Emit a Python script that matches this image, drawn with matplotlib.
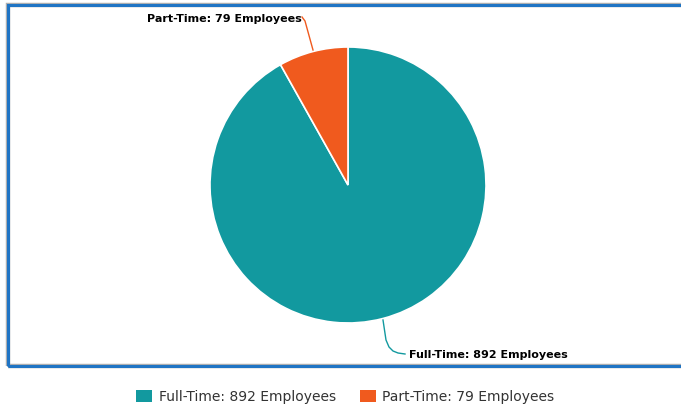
import matplotlib.pyplot as plt
from matplotlib.patches import Rectangle, Patch

labels = ['Full-Time', 'Part-Time']
counts = [892, 79]
colours = ['#12999f', '#f05a1e']

W, H = 681, 409
fig = plt.figure(figsize=(W / 100, H / 100), dpi=100)
ax = fig.add_axes([0, 0, 1, 1])

# frame around the plot area
fig.patches.append(Rectangle((8 / W, (H - 366) / H), 700 / W, 361 / H,
                             transform=fig.transFigure, fill=False,
                             edgecolor='#b0b0b0', lw=3.2, zorder=0))
fig.patches.append(Rectangle((8 / W, (H - 366) / H), 700 / W, 361 / H,
                             transform=fig.transFigure, fill=False,
                             edgecolor='#1f74c4', lw=2.2, zorder=1))

cx, cy, r = 348, H - 185, 138
wedges, _ = ax.pie(counts, colors=colours, startangle=90, counterclock=False,
                   center=(cx, cy), radius=r, frame=True,
                   wedgeprops=dict(edgecolor='white', linewidth=1.2))
ax.set_xlim(0, W)
ax.set_ylim(0, H)
ax.set_aspect('equal')
ax.axis('off')

# data labels with leader lines
txt = ['%s: %d Employees' % (l, c) for l, c in zip(labels, counts)]
ax.text(302, H - 19, txt[1], ha='right', va='center', fontsize=8,
        fontweight='bold')
ax.plot([302, 305, 313], [H - 17, H - 21, H - 50], color=colours[1], lw=1)
ax.text(409, H - 355, txt[0], ha='left', va='center', fontsize=8,
        fontweight='bold')
ax.plot([383, 386, 389, 393, 398, 405], [H - 320, H - 340, H - 347, H - 351,
                                         H - 353, H - 354],
        color=colours[0], lw=1)

handles = [Patch(facecolor=c, edgecolor='none') for c in colours]
leg = fig.legend(handles, txt, loc='center', bbox_to_anchor=(0.507, 1 - 397 / H),
                 ncol=2, frameon=False, fontsize=10, handlelength=1.15,
                 handleheight=1.0, handletextpad=0.5, columnspacing=1.7)
for t in leg.get_texts():
    t.set_color('#333333')

plt.savefig('out.png', dpi=100)
